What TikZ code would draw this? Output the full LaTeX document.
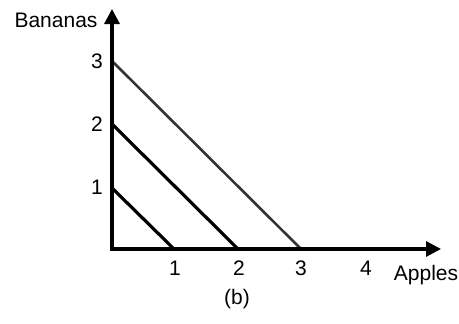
\documentclass[tikz,border=0pt]{standalone}
\usepackage{fontspec}
\setmainfont{Liberation Sans}
\usetikzlibrary{arrows.meta}
\begin{document}
\begin{tikzpicture}[x=1pt,y=-1pt,
  axis/.style={line width=3.2pt,-{Triangle[length=15pt,width=15pt]}},
  budget/.style={line width=3.2pt,black},
  budgetlight/.style={line width=2.6pt,black!80},
  lab/.style={font=\fontsize{21}{24}\selectfont,inner sep=0pt}]
\useasboundingbox (0,0) rectangle (459,324);
\coordinate (O) at (112,249);
\coordinate (ytop) at (112,9);
\coordinate (xend) at (441,249);
\coordinate (y1) at (112,188);
\coordinate (y2) at (112,124);
\coordinate (y3) at (112,61);
\coordinate (x1) at (174,249);
\coordinate (x2) at (238,249);
\coordinate (x3) at (301,249);
\draw[budget] (y1) -- (x1);
\draw[budget] (y2) -- (x2);
\draw[budgetlight] (y3) -- (x3);
\draw[axis] ([yshift=1.6pt]O) -- (ytop);
\draw[axis] ([xshift=-1.6pt]O) -- (xend);
\node[lab] (ylabel) at (56,20) {Bananas};
\node[lab] (xlabel) at (426,275) {Apples};
\node[lab] (ly1) at (97,187) {1};
\node[lab] (ly2) at (97,124) {2};
\node[lab] (ly3) at (97,61) {3};
\node[lab] (lx1) at (175,268) {1};
\node[lab] (lx2) at (239,268) {2};
\node[lab] (lx3) at (301,268) {3};
\node[lab] (lx4) at (366,268) {4};
\node[lab] (cap) at (237,299) {(b)};
\end{tikzpicture}
\end{document}
